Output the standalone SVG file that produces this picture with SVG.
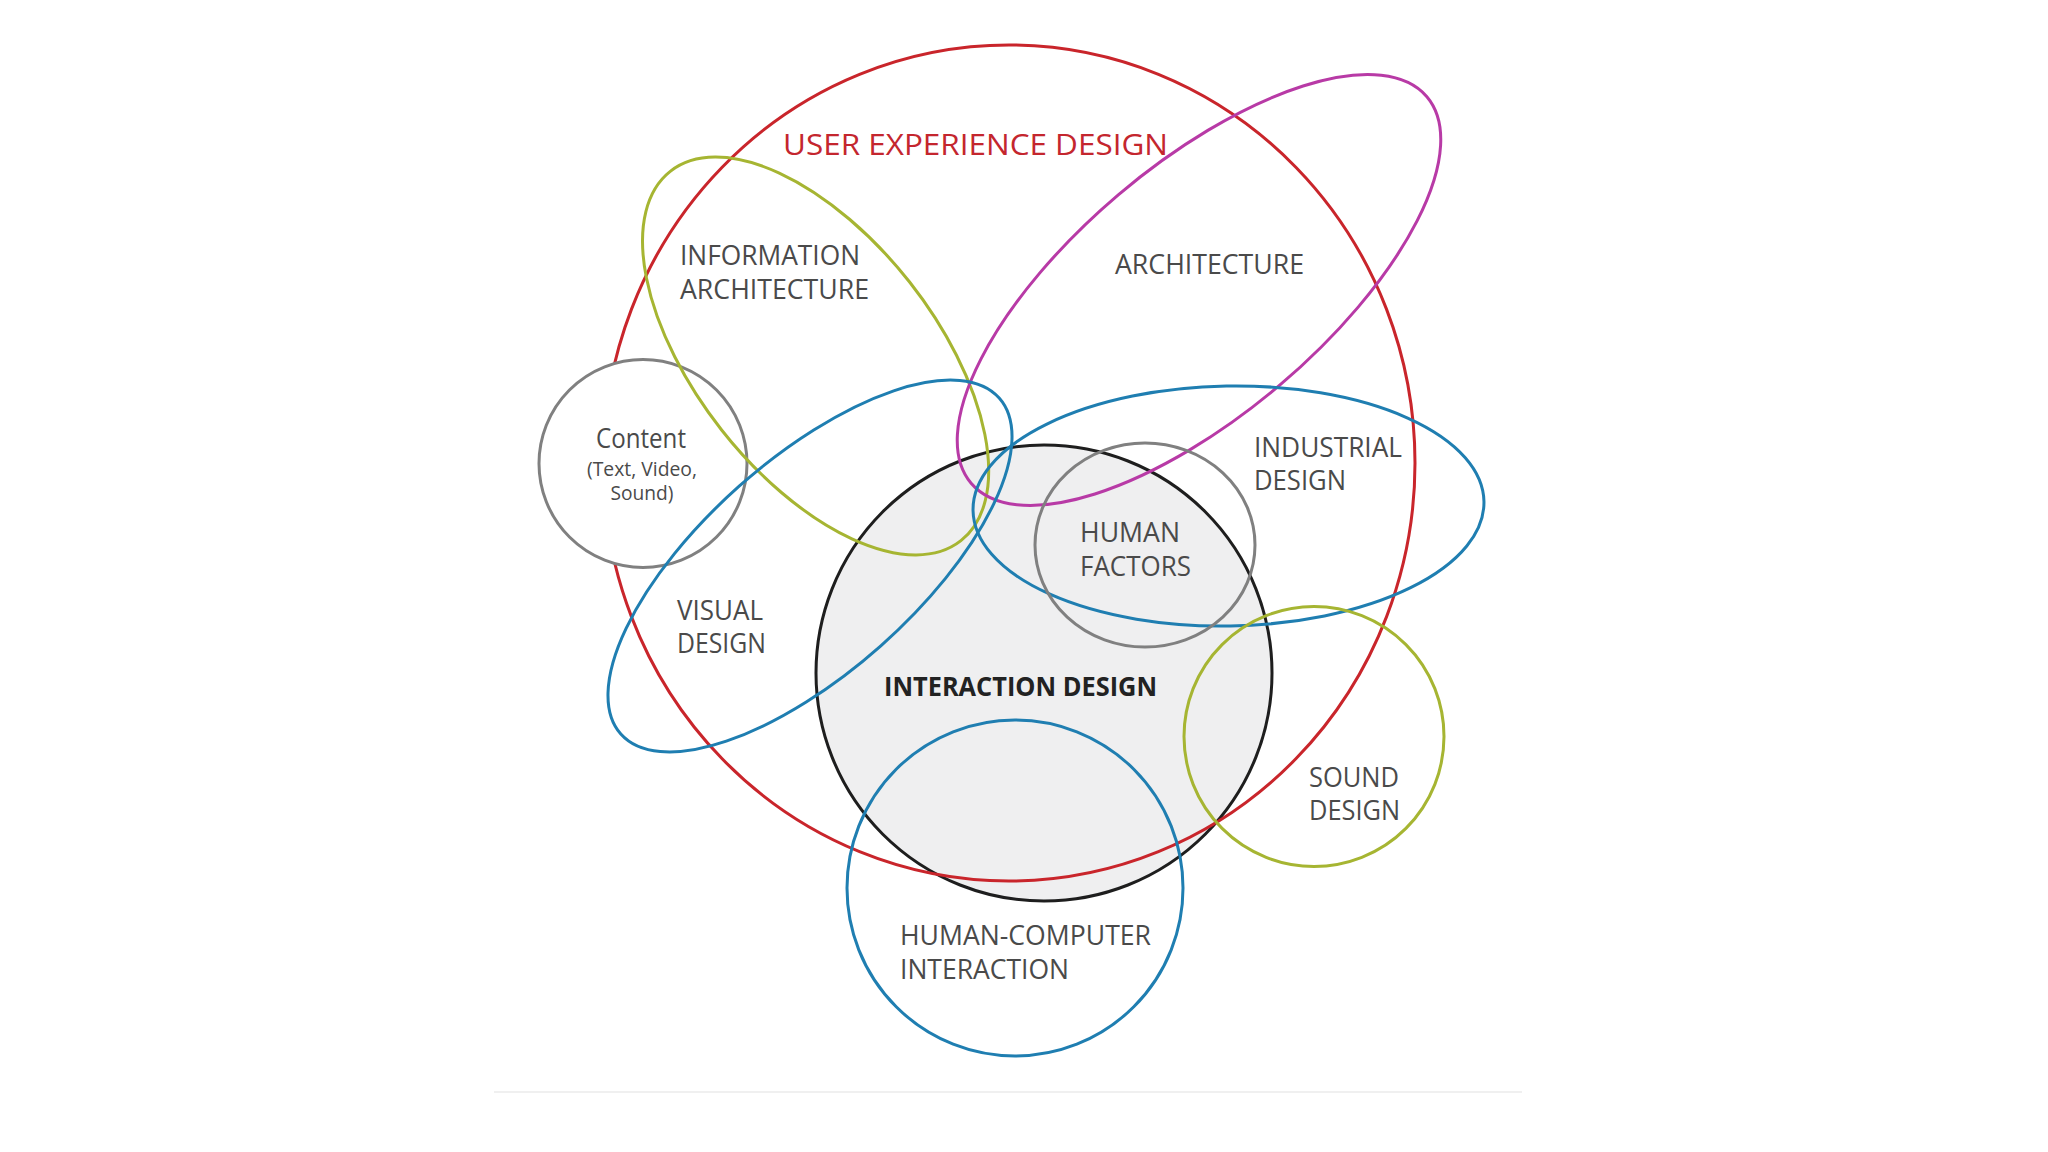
<svg xmlns="http://www.w3.org/2000/svg" width="2048" height="1152" viewBox="0 0 2048 1152">
<style>
.c{fill:none;stroke-width:3}
.red{stroke:#c9252b}.mag{stroke:#b83aa6}.grn{stroke:#a6b532}.blu{stroke:#1f7eb1}.gry{stroke:#808080}.blk{stroke:#1e1e1e}
.t{font-family:"Open Sans","Noto Sans",sans-serif;font-size:27px;fill:#4a4a4a}
.s{font-size:20px}
</style>
<rect width="2048" height="1152" fill="#ffffff"/>
<line x1="494" y1="1092" x2="1522" y2="1092" stroke="#f0f0f0" stroke-width="2"/>
<g id="interaction-design">
<circle cx="1044" cy="673" r="228" fill="#efeff0" stroke="#1e1e1e" stroke-width="3"/>
<text class="t" x="884" y="696" textLength="273" lengthAdjust="spacingAndGlyphs" style="font-weight:700;fill:#222">INTERACTION DESIGN</text>
</g>
<g id="user-experience-design">
<ellipse class="c red" cx="1009" cy="463" rx="406" ry="418"/>
<text class="t" x="783" y="155" textLength="385" lengthAdjust="spacingAndGlyphs" style="font-size:30px;fill:#c4262e">USER EXPERIENCE DESIGN</text>
</g>
<g id="content">
<circle cx="643" cy="463.5" r="104" fill="#ffffff" stroke="#808080" stroke-width="3"/>
<text class="t" x="641" y="448" text-anchor="middle" textLength="90" lengthAdjust="spacingAndGlyphs">Content</text>
<text class="t s" x="642" y="476" text-anchor="middle" textLength="110" lengthAdjust="spacingAndGlyphs">(Text, Video,</text>
<text class="t s" x="642" y="500" text-anchor="middle" textLength="63" lengthAdjust="spacingAndGlyphs">Sound)</text>
</g>
<g id="information-architecture">
<ellipse class="c grn" cx="815.6" cy="356" rx="235" ry="119.6" transform="rotate(51.8 815.6 356)"/>
<text class="t" x="680" y="265" textLength="180" lengthAdjust="spacingAndGlyphs">INFORMATION</text>
<text class="t" x="680" y="299" textLength="189" lengthAdjust="spacingAndGlyphs">ARCHITECTURE</text>
</g>
<g id="architecture">
<ellipse class="c mag" cx="1199" cy="290" rx="298.8" ry="124.8" transform="rotate(-40.3 1199 290)"/>
<text class="t" x="1115" y="274" textLength="189" lengthAdjust="spacingAndGlyphs">ARCHITECTURE</text>
</g>
<g id="visual-design">
<ellipse class="c blu" cx="810" cy="566" rx="253" ry="106.7" transform="rotate(-41.6 810 566)"/>
<text class="t" x="677" y="620" textLength="86" lengthAdjust="spacingAndGlyphs">VISUAL</text>
<text class="t" x="677" y="653" textLength="89" lengthAdjust="spacingAndGlyphs">DESIGN</text>
</g>
<g id="industrial-design">
<ellipse class="c blu" cx="1228.5" cy="506" rx="255.5" ry="120" transform="rotate(-1 1228.5 506)"/>
<text class="t" x="1254" y="457" textLength="148" lengthAdjust="spacingAndGlyphs">INDUSTRIAL</text>
<text class="t" x="1254" y="490" textLength="92" lengthAdjust="spacingAndGlyphs">DESIGN</text>
</g>
<g id="human-factors">
<ellipse class="c gry" cx="1145" cy="545" rx="110" ry="102"/>
<text class="t" x="1080" y="542" textLength="100" lengthAdjust="spacingAndGlyphs">HUMAN</text>
<text class="t" x="1080" y="576" textLength="111" lengthAdjust="spacingAndGlyphs">FACTORS</text>
</g>
<g id="sound-design">
<circle class="c grn" cx="1314" cy="736.5" r="130"/>
<text class="t" x="1309" y="787" textLength="90" lengthAdjust="spacingAndGlyphs">SOUND</text>
<text class="t" x="1309" y="820" textLength="91" lengthAdjust="spacingAndGlyphs">DESIGN</text>
</g>
<g id="human-computer-interaction">
<circle class="c blu" cx="1015" cy="888" r="168"/>
<text class="t" x="900" y="945" textLength="251" lengthAdjust="spacingAndGlyphs">HUMAN-COMPUTER</text>
<text class="t" x="900" y="979" textLength="169" lengthAdjust="spacingAndGlyphs">INTERACTION</text>
</g>
<g id="connectors"></g>
</svg>
